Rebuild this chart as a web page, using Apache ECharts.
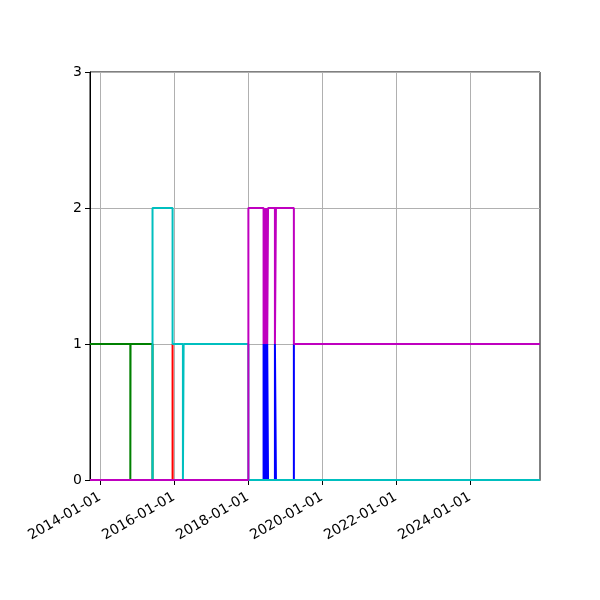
<!DOCTYPE html>
<html>
<head>
<meta charset="utf-8">
<script src="https://cdn.jsdelivr.net/npm/echarts@6/dist/echarts.min.js"></script>
<style>
  html, body { margin: 0; padding: 0; background: #fff; }
  #chart { width: 600px; height: 600px; }
</style>
</head>
<body>
<div id="chart"></div>
<script>
// change points of each step line: [date, value], value holds until next point
const greenSteps = [['2013-09-25', 1], ['2014-10-28', 0], ['2014-10-30', 1], ['2015-06-04', 0], ['2025-11-22', 0]];
const redSteps = [['2013-09-25', 0], ['2015-12-19', 1], ['2015-12-20', 0], ['2025-11-22', 0]];
const blueSteps = [
    ['2013-09-25', 0], ['2018-06-04', 1], ['2018-06-13', 0], ['2018-06-22', 1], ['2018-07-01', 0],
    ['2018-07-10', 1], ['2018-07-18', 0], ['2018-09-24', 1], ['2018-10-04', 0], ['2019-03-30', 1],
    ['2025-11-22', 1]
];
const cyanSteps = [
    ['2013-09-25', 0], ['2015-06-04', 2], ['2015-12-19', 1], ['2016-03-30', 0], ['2016-04-06', 1],
    ['2018-01-05', 0], ['2025-11-22', 0]
];
const magentaSteps = [
    ['2013-09-25', 0], ['2018-01-05', 2], ['2018-06-04', 1], ['2018-06-13', 2], ['2018-06-22', 1],
    ['2018-07-01', 2], ['2018-07-10', 1], ['2018-07-18', 2], ['2018-09-24', 1], ['2018-10-04', 2],
    ['2019-03-30', 1], ['2025-11-22', 1]
];
const xTicks = ['2014-01-01', '2016-01-01', '2018-01-01', '2020-01-01', '2022-01-01', '2024-01-01'];
const yTicks = [0, 1, 2, 3];
const xRange = ['2013-09-25', '2025-11-22'];

const toUtc = (s) => {
    const [y, m, d] = s.split('-').map(Number);
    return Date.UTC(y, m - 1, d);
};
const pad = (n) => (n < 10 ? '0' : '') + n;
const fmtDate = (ms) => {
    const d = new Date(ms);
    return d.getUTCFullYear() + '-' + pad(d.getUTCMonth() + 1) + '-' + pad(d.getUTCDate());
};

const lines = [
    { name: 'green', color: '#008000', steps: greenSteps },
    { name: 'red', color: '#ff0000', steps: redSteps },
    { name: 'blue', color: '#0000ff', steps: blueSteps },
    { name: 'cyan', color: '#00bfbf', steps: cyanSteps },
    { name: 'magenta', color: '#bf00bf', steps: magentaSteps }
];

const tickFont = { fontFamily: 'DejaVu Sans', fontSize: 14, color: '#000' };

const chart = echarts.init(document.getElementById('chart'), null, { renderer: 'canvas' });

chart.setOption({
    animation: false,
    grid: {
        left: 90, right: 60, top: 72, bottom: 120,
        show: true, borderColor: '#000', borderWidth: 1, backgroundColor: 'transparent'
    },
    xAxis: {
        type: 'value',
        min: toUtc(xRange[0]),
        max: toUtc(xRange[1]),
        axisLine: { show: true, lineStyle: { color: '#000', width: 1 } },
        axisTick: {
            show: true, length: 5, inside: false,
            customValues: xTicks.map(toUtc),
            lineStyle: { color: '#000', width: 1 }
        },
        axisLabel: {
            ...tickFont,
            rotate: 30,
            margin: 16,
            customValues: xTicks.map(toUtc),
            formatter: (v) => fmtDate(v),
            hideOverlap: false
        },
        splitLine: { show: true, lineStyle: { color: '#b0b0b0', width: 1 } }
    },
    yAxis: {
        type: 'value',
        min: 0, max: 3, interval: 1,
        axisLine: { show: true, lineStyle: { color: '#000', width: 1 } },
        axisTick: { show: true, length: 5, inside: false, lineStyle: { color: '#000', width: 1 } },
        axisLabel: { ...tickFont, margin: 8, formatter: (v) => yTicks.includes(v) ? String(v) : '' },
        splitLine: { show: true, lineStyle: { color: '#b0b0b0', width: 1 } }
    },
    series: lines.map((l) => ({
        name: l.name,
        type: 'line',
        step: 'end',
        showSymbol: false,
        symbol: 'none',
        clip: true,
        lineStyle: { color: l.color, width: 2 },
        itemStyle: { color: l.color },
        data: l.steps.map(([d, v]) => [toUtc(d), v])
    }))
});
</script>
</body>
</html>
